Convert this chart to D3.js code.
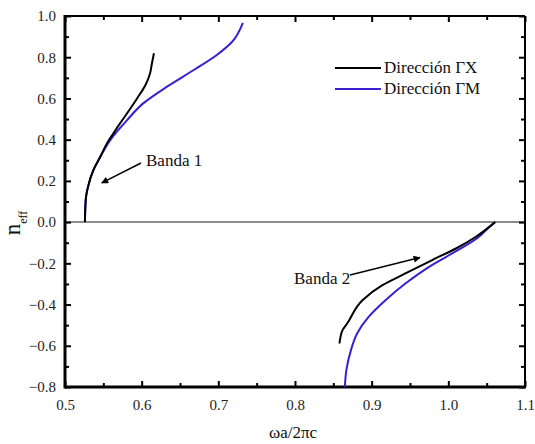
<!DOCTYPE html>
<html><head><meta charset="utf-8">
<script src="https://cdn.jsdelivr.net/npm/d3@7"></script>
<style>
body{margin:0;background:#fff;}
</style></head>
<body><svg id="c" width="535" height="444" font-family="Liberation Serif"></svg>
<script>
// Data
const xTicks = [0.5,0.6,0.7,0.8,0.9,1.0,1.1];
const yTicks = [-0.8,-0.6,-0.4,-0.2,0.0,0.2,0.4,0.6,0.8,1.0];
const seriesNames = ["Dirección ΓX","Dirección ΓM"];
const gx1 = [[0.526,0],[0.527,0.107],[0.530,0.171],[0.537,0.252],[0.546,0.317],[0.556,0.390],[0.563,0.430],[0.572,0.480],[0.581,0.528],[0.594,0.600],[0.605,0.665],[0.611,0.722],[0.613,0.762],[0.616,0.819]];
const gm1 = [[0.526,0],[0.527,0.107],[0.530,0.171],[0.537,0.252],[0.546,0.317],[0.559,0.398],[0.581,0.495],[0.602,0.576],[0.633,0.657],[0.668,0.738],[0.698,0.811],[0.718,0.875],[0.732,0.967]];
const gx2 = [[0.858,-0.589],[0.862,-0.524],[0.868,-0.492],[0.888,-0.379],[0.914,-0.306],[0.944,-0.249],[0.979,-0.184],[1.010,-0.128],[1.036,-0.071],[1.061,0.0]];
const gm2 = [[0.865,-0.80],[0.867,-0.718],[0.873,-0.621],[0.881,-0.540],[0.896,-0.460],[0.918,-0.379],[0.944,-0.298],[0.975,-0.217],[1.005,-0.152],[1.040,-0.071],[1.049,-0.039],[1.061,0.001]];
const colors = ["#000000","#3a1fd2"];
const SERIF = "Liberation Serif";

const svg = d3.select("#c");
const L=65,R=525,T=16,B=387;
const x = d3.scaleLinear().domain([0.5,1.1]).range([L,R]);
const y = d3.scaleLinear().domain([-0.8,1.0]).range([B,T]);

const defs = svg.append("defs");
defs.append("marker").attr("id","ah").attr("viewBox","0 0 10 10").attr("refX",9).attr("refY",5)
 .attr("markerWidth",9).attr("markerHeight",7).attr("markerUnits","userSpaceOnUse").attr("orient","auto")
 .append("path").attr("d","M0,0L10,5L0,10z").attr("fill","#000");

// zero line
svg.append("line").attr("x1",L).attr("x2",R).attr("y1",y(0)).attr("y2",y(0)).attr("stroke","#666").attr("stroke-width",1.5);

const minorX = d3.range(0.55,1.1,0.1).map(v=>+v.toFixed(2));
const minorY = d3.range(-0.7,1.0,0.2).map(v=>+v.toFixed(2));

function styleAx(g){g.attr("font-family",SERIF);g.select(".domain").remove();g.selectAll(".tick line").attr("stroke","#000").attr("stroke-width",2);
 g.selectAll("text").attr("font-size",15).attr("fill","#222").attr("font-family",SERIF);}

// bottom
svg.append("g").attr("transform",`translate(0,${B})`).call(d3.axisBottom(x).tickValues(xTicks).tickFormat(d3.format(".1f")).tickSizeInner(-6).tickPadding(12)).call(styleAx);
svg.append("g").attr("transform",`translate(0,${B})`).call(d3.axisBottom(x).tickValues(minorX).tickFormat("").tickSizeInner(-4)).call(styleAx);
// top
svg.append("g").attr("transform",`translate(0,${T})`).call(d3.axisTop(x).tickValues(xTicks).tickFormat("").tickSizeInner(-6)).call(styleAx);
svg.append("g").attr("transform",`translate(0,${T})`).call(d3.axisTop(x).tickValues(minorX).tickFormat("").tickSizeInner(-4)).call(styleAx);
// left
svg.append("g").attr("transform",`translate(${L},0)`).call(d3.axisLeft(y).tickValues(yTicks).tickFormat(d3.format(".1f")).tickSizeInner(-6).tickPadding(9)).call(styleAx);
svg.append("g").attr("transform",`translate(${L},0)`).call(d3.axisLeft(y).tickValues(minorY).tickFormat("").tickSizeInner(-4)).call(styleAx);
// right
svg.append("g").attr("transform",`translate(${R},0)`).call(d3.axisRight(y).tickValues(yTicks).tickFormat("").tickSizeInner(-6)).call(styleAx);
svg.append("g").attr("transform",`translate(${R},0)`).call(d3.axisRight(y).tickValues(minorY).tickFormat("").tickSizeInner(-4)).call(styleAx);

// frame
svg.append("line").attr("x1",L).attr("x2",R).attr("y1",T).attr("y2",T).attr("stroke","#000").attr("stroke-width",2);
svg.append("line").attr("x1",R).attr("x2",R).attr("y1",T).attr("y2",B).attr("stroke","#000").attr("stroke-width",2);
svg.append("line").attr("x1",L).attr("x2",L).attr("y1",T-1).attr("y2",B+1.5).attr("stroke","#000").attr("stroke-width",3);
svg.append("line").attr("x1",L).attr("x2",R+1).attr("y1",B).attr("y2",B).attr("stroke","#000").attr("stroke-width",3);

const line = d3.line().x(d=>x(d[0])).y(d=>y(d[1])).curve(d3.curveMonotoneY);
[[gm1,1],[gm2,1],[gx1,0],[gx2,0]].forEach(([d,c])=>{
 svg.append("path").datum(d).attr("d",line).attr("fill","none").attr("stroke",colors[c]).attr("stroke-width",2);
});

function txt(xp,yp,s,fs){return svg.append("text").attr("x",xp).attr("y",yp).attr("font-size",fs).attr("fill","#111").attr("font-family",SERIF).text(s);}

// legend
seriesNames.forEach((n,i)=>{
 const ly = 68 + i*21;
 svg.append("line").attr("x1",335).attr("x2",381).attr("y1",ly).attr("y2",ly).attr("stroke",colors[i]).attr("stroke-width",2);
 txt(384,ly+5,n,17);
});

// annotations
txt(146,166,"Banda 1",17);
svg.append("line").attr("x1",141).attr("y1",163).attr("x2",x(0.548)).attr("y2",y(0.19)).attr("stroke","#000").attr("stroke-width",1.5).attr("marker-end","url(#ah)");
txt(294,284,"Banda 2",17);
svg.append("line").attr("x1",350).attr("y1",275).attr("x2",x(0.963)).attr("y2",y(-0.172)).attr("stroke","#000").attr("stroke-width",1.5).attr("marker-end","url(#ah)");

// axis titles
txt(293,438,"ωa/2πc",17).attr("text-anchor","middle");
const yt = svg.append("text").attr("transform","translate(20,223) rotate(-90)").attr("text-anchor","middle").attr("fill","#111").attr("font-family",SERIF);
yt.append("tspan").attr("font-size",23).text("n");
yt.append("tspan").attr("font-size",12).attr("dy",7).text("eff");
</script></body></html>
